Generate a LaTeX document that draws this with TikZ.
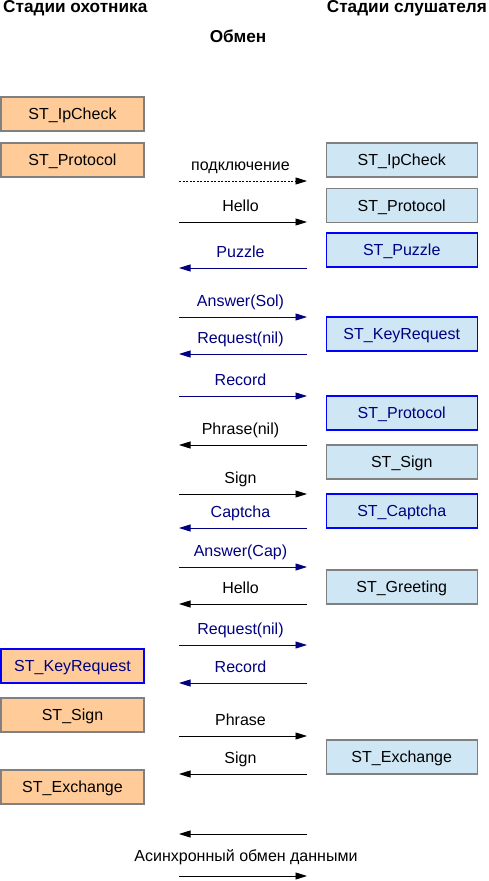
\documentclass[tikz,border=0pt]{standalone}
\usepackage{fontspec}
\setmainfont{Liberation Sans}
\usetikzlibrary{arrows.meta}

\definecolor{huntfill}{HTML}{FFCC99}
\definecolor{lsnfill}{HTML}{CFE7F5}
\definecolor{navy}{HTML}{000080}
\definecolor{edgegray}{HTML}{808080}

\begin{document}
\begin{tikzpicture}[x=1pt,y=-1pt,
  arr/.style={-{Triangle[length=11.5pt,width=7pt]},line width=0.9pt},
  box/.style={draw=edgegray,line width=1.2pt,minimum height=34pt,inner sep=0pt,
    text height=11.5pt,text depth=0pt,font=\fontsize{16}{19}\selectfont},
  hunt/.style={box,fill=huntfill,minimum width=143pt},
  lsn/.style={box,fill=lsnfill,minimum width=151pt},
  act/.style={draw=blue,text=navy},
  txt/.style={inner sep=0pt,font=\fontsize{16}{19}\selectfont},
  lbl/.style={txt,anchor=base,yshift=11pt,xshift=-2.5pt},
  hdr/.style={inner sep=0pt,font=\bfseries\fontsize{17.2}{20}\selectfont}]
  \useasboundingbox (0,0) rectangle (489,881);

  %% headers
  \node[hdr,anchor=base west] (hhunt) at (3,12.3)    {Стадии охотника};
  \node[hdr,anchor=base east] (hlsn)  at (487,12.3)  {Стадии слушателя};
  \node[hdr,anchor=base]      (hmid)  at (238,42.7)  {Обмен};

  %% hunter stages
  \node[hunt]     (h1) at (72.5,114) {ST\_IpCheck};
  \node[hunt]     (h2) at (72.5,160) {ST\_Protocol};
  \node[hunt,act] (h3) at (72.5,666) {ST\_KeyRequest};
  \node[hunt]     (h4) at (72.5,715) {ST\_Sign};
  \node[hunt]     (h5) at (72.5,787) {ST\_Exchange};

  %% listener stages
  \node[lsn]     (s1) at (401.75,160) {ST\_IpCheck};
  \node[lsn]     (s2) at (401.75,205.5) {ST\_Protocol};
  \node[lsn,act] (s3) at (401.75,250) {ST\_Puzzle};
  \node[lsn,act] (s4) at (401.75,334) {ST\_KeyRequest};
  \node[lsn,act] (s5) at (401.75,413) {ST\_Protocol};
  \node[lsn]     (s6) at (401.75,462) {ST\_Sign};
  \node[lsn,act] (s7) at (401.75,511) {ST\_Captcha};
  \node[lsn]     (s8) at (401.75,587) {ST\_Greeting};
  \node[lsn]     (s9) at (401.75,757) {ST\_Exchange};

  %% message lanes: (m#a) hunter side, (m#b) listener side
  \foreach \y [count=\i] in {181,222,268,317,354,396,445,494,528,567,604,645,683,736,774,834,876}{
    \coordinate (m\i a) at (179,\y);
    \coordinate (m\i b) at (307,\y);
  }

  % connection setup
  \draw[arr,dash pattern=on 2pt off 1.5pt] (m1a) -- (m1b) node[lbl,midway] (t1) {подключение};
  \draw[arr] (m2a) -- (m2b) node[lbl,midway] (t2) {Hello};
  \draw[arr,navy] (m3b) -- (m3a) node[lbl,midway] (t3) {Puzzle};
  % key request
  \draw[arr,navy] (m4a) -- (m4b) node[lbl,midway] (t4) {Answer(Sol)};
  \draw[arr,navy] (m5b) -- (m5a) node[lbl,midway] (t5) {Request(nil)};
  \draw[arr,navy] (m6a) -- (m6b) node[lbl,midway] (t6) {Record};
  % signing and captcha
  \draw[arr] (m7b) -- (m7a) node[lbl,midway] (t7) {Phrase(nil)};
  \draw[arr] (m8a) -- (m8b) node[lbl,midway] (t8) {Sign};
  \draw[arr,navy] (m9b) -- (m9a) node[lbl,midway] (t9) {Captcha};
  \draw[arr,navy] (m10a) -- (m10b) node[lbl,midway] (t10) {Answer(Cap)};
  % greeting
  \draw[arr] (m11b) -- (m11a) node[lbl,midway] (t11) {Hello};
  \draw[arr,navy] (m12a) -- (m12b) node[lbl,midway] (t12) {Request(nil)};
  \draw[arr,navy] (m13b) -- (m13a) node[lbl,midway] (t13) {Record};
  \draw[arr] (m14a) -- (m14b) node[lbl,midway] (t14) {Phrase};
  \draw[arr] (m15b) -- (m15a) node[lbl,midway] (t15) {Sign};
  % data exchange
  \draw[arr] (m16b) -- (m16a);
  \draw[arr] (m17a) -- (m17b);
  \node[txt,anchor=base] (t16) at (246,861) {Асинхронный обмен данными};
\end{tikzpicture}
\end{document}
